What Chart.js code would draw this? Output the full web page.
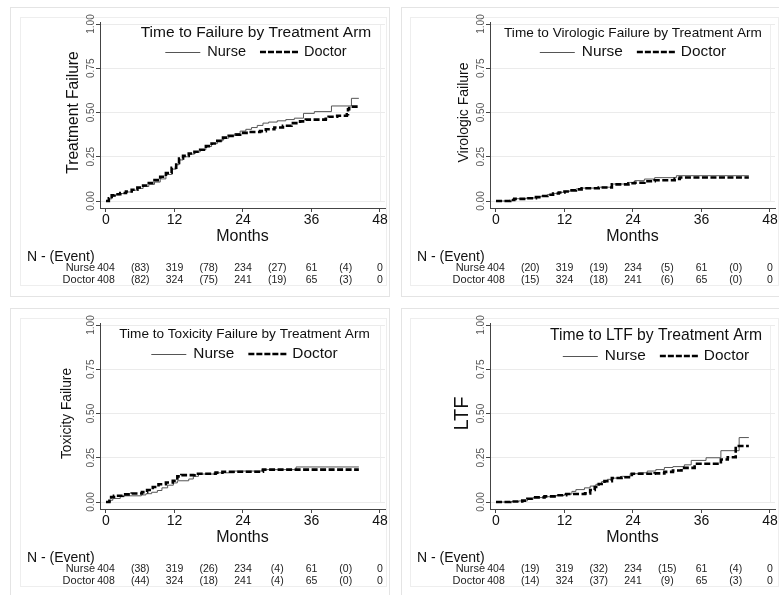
<!DOCTYPE html>
<html>
<head>
<meta charset="utf-8">
<script src="https://cdn.jsdelivr.net/npm/chart.js@4"></script>
<style>
  body { margin: 0; background: #fff; }
  #wrap { position: relative; width: 779px; height: 595px; overflow: hidden; background: #fff; }
  .panel { position: absolute; width: 390px; height: 297px; }
</style>
</head>
<body>
<div id="wrap">
  <div class="panel" style="left:0;top:0"><canvas id="c1" width="390" height="297"></canvas></div>
  <div class="panel" style="left:390px;top:0"><canvas id="c2" width="390" height="297"></canvas></div>
  <div class="panel" style="left:0;top:301px"><canvas id="c3" width="390" height="297"></canvas></div>
  <div class="panel" style="left:390px;top:301px"><canvas id="c4" width="390" height="297"></canvas></div>
</div>
<script>
// axis ticks
var tickMonths = [0, 12, 24, 36, 48];
var yTicks = [0, 0.25, 0.5, 0.75, 1];
var yTickLabels = ['0.00', '0.25', '0.50', '0.75', '1.00'];

// risk table (same N at risk in every panel)
var riskMonths = [0, 6, 12, 18, 24, 30, 36, 42, 48];
var atRiskNurse = [404, 319, 234, 61, 0];
var atRiskDoctor = [408, 324, 241, 65, 0];

// cumulative failure, [month, value] at each step
var failureNurse = [[0,0],[0.5,0.012],[1,0.028],[1.5,0.035],[2.5,0.042],[3.5,0.051],[4.5,0.061],[5.5,0.071],[6.5,0.082],[7.5,0.094],[8.5,0.107],[9.5,0.125],[10.5,0.15],[11.5,0.18],[12.3,0.205],[12.8,0.232],[13.5,0.25],[14.5,0.265],[15.5,0.277],[16.5,0.29],[17.5,0.308],[18.5,0.324],[19.5,0.34],[20.5,0.355],[21.5,0.368],[22.5,0.38],[23.5,0.395],[24.5,0.405],[25.5,0.415],[26.5,0.427],[27.5,0.44],[28.5,0.446],[30,0.453],[31.5,0.46],[33,0.468],[34.6,0.495],[36.5,0.505],[39.5,0.537],[43,0.58],[44.3,0.58]];
var failureDoctor = [[0,0],[0.5,0.015],[1,0.032],[1.5,0.038],[2.5,0.045],[3.5,0.054],[4.5,0.064],[5.5,0.076],[6.5,0.088],[7.5,0.102],[8.5,0.118],[9.5,0.137],[10.5,0.158],[11.5,0.188],[12.3,0.215],[12.8,0.24],[13.5,0.255],[14.5,0.268],[15.5,0.278],[16.5,0.29],[17.5,0.31],[18.5,0.325],[19.5,0.34],[20.5,0.358],[21.5,0.368],[22.5,0.375],[23.5,0.385],[25,0.39],[27,0.395],[28,0.405],[29.5,0.415],[31,0.425],[32.5,0.44],[34,0.45],[35,0.46],[38.5,0.465],[39,0.476],[40.5,0.482],[42.2,0.49],[42.4,0.518],[42.6,0.533],[44.3,0.533]];
var failureEventsNurse = [83, 78, 27, 4];
var failureEventsDoctor = [82, 75, 19, 3];

var viroNurse = [[0,0],[2.3,0.004],[2.8,0.009],[3.2,0.013],[5.3,0.017],[7,0.024],[8,0.03],[9,0.037],[10,0.043],[11,0.049],[12,0.055],[13,0.062],[14,0.068],[15,0.073],[18,0.078],[20.3,0.096],[23.2,0.105],[24.3,0.115],[26,0.124],[27.8,0.132],[31.6,0.143],[44.3,0.143]];
var viroDoctor = [[0,0],[2.5,0.006],[3.2,0.012],[5.3,0.016],[7,0.022],[8,0.028],[9,0.035],[10,0.042],[11,0.048],[12,0.054],[13,0.06],[14,0.066],[15,0.072],[18,0.076],[20.3,0.094],[23.2,0.1],[24.3,0.103],[26,0.112],[27.8,0.117],[31.3,0.125],[32.2,0.133],[44.3,0.133]];
var viroEventsNurse = [20, 19, 5, 0];
var viroEventsDoctor = [15, 18, 6, 0];

var toxNurse = [[0,0],[0.8,0.01],[1.2,0.02],[2.5,0.03],[3.2,0.035],[6.2,0.04],[7,0.047],[8,0.055],[9,0.065],[9.8,0.08],[10.8,0.095],[11.8,0.108],[12.5,0.12],[14.5,0.13],[15.3,0.145],[16.2,0.158],[19.5,0.165],[22.5,0.175],[27.3,0.183],[33.3,0.198],[44.3,0.198]];
var toxDoctor = [[0,0],[0.6,0.015],[0.9,0.028],[1.4,0.035],[2.9,0.043],[4.5,0.048],[6.3,0.056],[7.2,0.068],[8.2,0.085],[9.2,0.1],[10.5,0.11],[11.7,0.12],[12.5,0.145],[13.2,0.152],[15.5,0.16],[19.2,0.166],[20.4,0.171],[27.5,0.183],[44.3,0.183]];
var toxEventsNurse = [38, 26, 4, 0];
var toxEventsDoctor = [44, 18, 4, 0];

var ltfNurse = [[0,0],[2,0.003],[4,0.006],[5.5,0.015],[6.5,0.025],[8.5,0.03],[10.5,0.037],[12,0.045],[13.3,0.06],[14,0.07],[15.5,0.08],[16.5,0.09],[17.5,0.1],[18.5,0.115],[19.5,0.128],[20.5,0.135],[22,0.145],[23.5,0.16],[25,0.165],[26.5,0.175],[28,0.183],[29.5,0.195],[31,0.2],[33,0.21],[34.2,0.235],[36.8,0.25],[39.4,0.29],[42.6,0.364],[44.3,0.364]];
var ltfDoctor = [[0,0],[2.5,0.003],[4.6,0.008],[5.5,0.018],[6.5,0.026],[8.5,0.032],[10.5,0.038],[12.3,0.045],[15.6,0.049],[16.5,0.068],[17.3,0.085],[18,0.102],[19,0.118],[20.3,0.136],[22,0.14],[23.8,0.16],[26,0.16],[27.8,0.162],[29.5,0.17],[31,0.178],[32.5,0.193],[34.8,0.216],[39.4,0.24],[40.6,0.253],[42,0.316],[44.3,0.316]];
var ltfEventsNurse = [19, 32, 15, 4];
var ltfEventsDoctor = [14, 37, 9, 3];

var FONT = '"Liberation Sans", Arial, sans-serif';
Chart.defaults.font.family = FONT;

// titles, legend and risk table drawn on the canvas
var kmDecor = {
  id: 'kmDecor',
  beforeDraw: function(chart, args, st) {
    var ctx = chart.ctx, x = chart.scales.x, y = chart.scales.y;
    ctx.save();
    ctx.lineWidth = 1;
    ctx.strokeStyle = '#e4e4e4';
    ctx.strokeRect(st.outer[0] + 0.5, st.outer[1] + 0.5, st.outer[2], st.outer[3]);
    ctx.strokeStyle = '#eeeeee';
    ctx.strokeRect(st.inner[0] + 0.5, st.inner[1] + 0.5, st.inner[2], st.inner[3]);
    var px = Math.round(x.getPixelForValue(48)) + 0.5;
    ctx.beginPath();
    ctx.moveTo(px, y.getPixelForValue(1));
    ctx.lineTo(px, y.getPixelForValue(0));
    ctx.stroke();
    ctx.restore();
  },
  afterDraw: function(chart, args, st) {
    var ctx = chart.ctx, x = chart.scales.x, y = chart.scales.y;
    ctx.save();

    // y tick labels, rotated
    ctx.fillStyle = '#555';
    ctx.font = '10px ' + FONT;
    ctx.textAlign = 'center';
    ctx.textBaseline = 'middle';
    yTicks.forEach(function(v, i) {
      ctx.save();
      ctx.translate(91, y.getPixelForValue(v));
      ctx.rotate(-Math.PI / 2);
      ctx.fillText(yTickLabels[i], 0, 0);
      ctx.restore();
    });

    // y title
    ctx.fillStyle = '#111';
    ctx.font = st.yTitleSize + 'px ' + FONT;
    ctx.save();
    ctx.translate(st.yTitleX, (y.getPixelForValue(0) + y.getPixelForValue(1)) / 2);
    ctx.rotate(-Math.PI / 2);
    ctx.fillText(st.yTitle, 0, 0);
    ctx.restore();

    // title
    ctx.font = st.titleSize + 'px ' + FONT;
    ctx.fillText(st.title, st.cx, st.titleY);

    // legend
    ctx.font = st.legendSize + 'px ' + FONT;
    var wN = ctx.measureText('Nurse').width, wD = ctx.measureText('Doctor').width;
    var total = 35 + 7 + wN + 14 + 40 + 4 + wD;
    var lx = st.cx - total / 2, ly = st.legendY;
    ctx.textAlign = 'left';
    ctx.strokeStyle = '#555';
    ctx.lineWidth = 1;
    ctx.beginPath(); ctx.moveTo(lx, ly + 0.5); ctx.lineTo(lx + 35, ly + 0.5); ctx.stroke();
    ctx.fillText('Nurse', lx + 42, ly);
    var dx = lx + 42 + wN + 14;
    ctx.strokeStyle = '#000';
    ctx.lineWidth = 2.5;
    ctx.setLineDash([6, 2]);
    ctx.beginPath(); ctx.moveTo(dx, ly); ctx.lineTo(dx + 40, ly); ctx.stroke();
    ctx.setLineDash([]);
    ctx.fillText('Doctor', dx + 44, ly);

    // risk table
    ctx.fillStyle = '#111';
    ctx.font = '14px ' + FONT;
    ctx.fillText('N - (Event)', 27, 257);
    ctx.fillStyle = '#222';
    var rows = [['Nurse', atRiskNurse, st.evNurse, 268], ['Doctor', atRiskDoctor, st.evDoctor, 280]];
    rows.forEach(function(r) {
      ctx.textAlign = 'right';
      ctx.font = '11px ' + FONT;
      ctx.fillText(r[0], x.getPixelForValue(0) - 11, r[3]);
      ctx.textAlign = 'center';
      ctx.font = '10.5px ' + FONT;
      riskMonths.forEach(function(m, i) {
        var txt = i % 2 === 0 ? String(r[1][i / 2]) : '(' + r[2][(i - 1) / 2] + ')';
        ctx.fillText(txt, x.getPixelForValue(m), r[3]);
      });
    });
    ctx.restore();
  }
};

function toXY(arr) {
  return arr.map(function(p) { return { x: p[0], y: p[1] }; });
}

function makeChart(canvasId, nurse, doctor, deco) {
  var ctx = document.getElementById(canvasId).getContext('2d');
  return new Chart(ctx, {
    type: 'line',
    data: {
      datasets: [{
        label: 'Nurse',
        data: toXY(nurse),
        borderColor: '#555',
        borderWidth: 1,
        stepped: true,
        pointRadius: 0,
        fill: false,
        order: 1
      }, {
        label: 'Doctor',
        data: toXY(doctor),
        borderColor: '#000',
        borderWidth: 2.6,
        borderDash: [6, 2.5],
        stepped: true,
        pointRadius: 0,
        fill: false,
        order: 0
      }]
    },
    options: {
      responsive: false,
      animation: false,
      layout: { padding: { top: 22, right: 5, bottom: 51, left: 0 } },
      plugins: {
        legend: { display: false },
        tooltip: { enabled: false },
        kmDecor: deco
      },
      scales: {
        x: {
          type: 'linear',
          min: -1.05,
          max: 48.88,
          afterBuildTicks: function(s) { s.ticks = tickMonths.map(function(v) { return { value: v }; }); },
          afterFit: function(s) { s.height = 38; },
          grid: { drawOnChartArea: false, drawTicks: true, tickLength: 4, color: '#444' },
          border: { display: true, color: '#444', width: 1 },
          ticks: { color: '#111', font: { size: 14 }, padding: 0, maxRotation: 0,
                   callback: function(v) { return String(v); } },
          title: { display: true, text: 'Months', color: '#111', font: { size: 16 }, padding: { top: 0, bottom: 0 } }
        },
        y: {
          type: 'linear',
          min: -0.0395,
          max: 1.0113,
          afterBuildTicks: function(s) { s.ticks = yTicks.map(function(v) { return { value: v }; }); },
          afterFit: function(s) { s.width = 100; },
          grid: { color: '#ebebeb', tickColor: '#444', drawTicks: true, tickLength: 4 },
          border: { display: true, color: '#444', width: 1 },
          ticks: { display: false }
        }
      }
    },
    plugins: [kmDecor]
  });
}

makeChart('c1', failureNurse, failureDoctor, {
  title: 'Time to Failure by Treatment Arm', titleSize: 15.5, titleY: 33,
  legendSize: 14.5, legendY: 52, cx: 256,
  yTitle: 'Treatment Failure', yTitleSize: 15.6, yTitleX: 74,
  evNurse: failureEventsNurse, evDoctor: failureEventsDoctor,
  outer: [10, 7, 379, 289], inner: [20, 17, 366, 268]
});
makeChart('c2', viroNurse, viroDoctor, {
  title: 'Time to Virologic Failure by Treatment Arm', titleSize: 13.6, titleY: 33,
  legendSize: 15.4, legendY: 52, cx: 243,
  yTitle: 'Virologic Failure', yTitleSize: 14, yTitleX: 74,
  evNurse: viroEventsNurse, evDoctor: viroEventsDoctor,
  outer: [11, 7, 380, 289], inner: [20, 17, 368, 268]
});
makeChart('c3', toxNurse, toxDoctor, {
  title: 'Time to Toxicity Failure by Treatment Arm', titleSize: 13.6, titleY: 33,
  legendSize: 15.4, legendY: 53, cx: 244.5,
  yTitle: 'Toxicity Failure', yTitleSize: 13.8, yTitleX: 67,
  evNurse: toxEventsNurse, evDoctor: toxEventsDoctor,
  outer: [10, 7, 379, 289], inner: [20, 17, 366, 268]
});
makeChart('c4', ltfNurse, ltfDoctor, {
  title: 'Time to LTF by Treatment Arm', titleSize: 15.7, titleY: 35,
  legendSize: 15.4, legendY: 55, cx: 266,
  yTitle: 'LTF', yTitleSize: 20, yTitleX: 72,
  evNurse: ltfEventsNurse, evDoctor: ltfEventsDoctor,
  outer: [11, 7, 380, 289], inner: [20, 17, 368, 268]
});
</script>
</body>
</html>
